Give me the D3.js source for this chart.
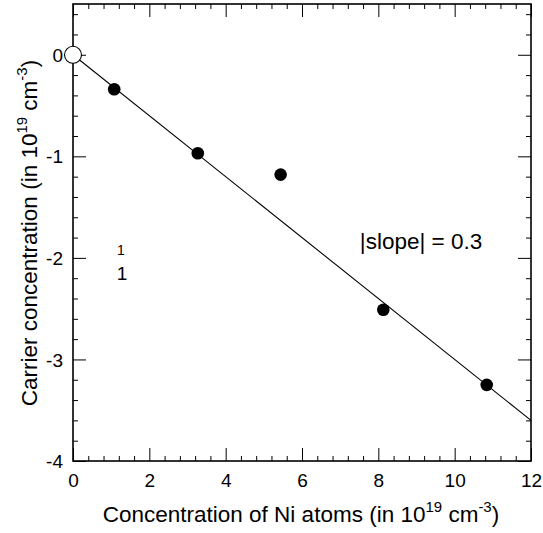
<!DOCTYPE html>
<html><head><meta charset="utf-8">
<script src="https://cdn.jsdelivr.net/npm/d3@7"></script>
<style>
html,body{margin:0;padding:0;background:#fff;}
text{font-family:"Liberation Sans",Arial,sans-serif;fill:#000;}
</style></head>
<body>
<svg id="chart" width="543" height="533"></svg>
<script>
// data
const niConc = [1.08, 3.27, 5.44, 8.13, 10.84];
const carrierConc = [-0.34, -0.97, -1.18, -2.51, -3.25];
const originX = [0];
const originY = [0];
const slope = -0.3;
const fitX = [0, 12];
const xTickValues = [0, 2, 4, 6, 8, 10, 12];
const yTickValues = [-4, -3, -2, -1, 0];
const slopeLabel = "|slope| = 0.3";

const svg = d3.select("#chart");
const L = 73, R = 531, T = 4, B = 461;
const x = d3.scaleLinear().domain([0, 12]).range([L, R]);
const y = d3.scaleLinear().domain([-4, 0.5]).range([B, T]);

const xMinor = d3.range(0, 12.0001, 0.4).map(v => +v.toFixed(2)).filter(v => !xTickValues.includes(v));
const yMinor = d3.range(-4, 0.5001, 0.2).map(v => +v.toFixed(2)).filter(v => !yTickValues.includes(v));

function drawAxis(gen, transform, major, minor, labels) {
  const gMaj = svg.append("g").attr("transform", transform)
    .call(gen.tickValues(major).tickSizeInner(-13).tickSizeOuter(0).tickFormat(labels ? (d => String(d)) : ""));
  gMaj.select(".domain").remove();
  gMaj.selectAll(".tick line").attr("stroke", "#000").attr("stroke-width", 1);
  gMaj.selectAll(".tick text").attr("font-size", 19).attr("fill", "#000")
    .attr("font-family", "Liberation Sans, Arial, sans-serif");
  const gMin = svg.append("g").attr("transform", transform)
    .call(gen.tickValues(minor).tickSizeInner(-5).tickSizeOuter(0).tickFormat(""));
  gMin.select(".domain").remove();
  gMin.selectAll(".tick line").attr("stroke", "#000").attr("stroke-width", 1);
  return gMaj;
}
const gx = drawAxis(d3.axisBottom(x), `translate(0,${B})`, xTickValues, xMinor, true);
gx.selectAll(".tick text").attr("dy", null).attr("y", 26);
drawAxis(d3.axisTop(x), `translate(0,${T})`, xTickValues, xMinor, false);
const gy = drawAxis(d3.axisLeft(y), `translate(${L},0)`, yTickValues, yMinor, true);
gy.selectAll(".tick text").attr("x", -10).attr("dy", "0.35em");
drawAxis(d3.axisRight(y), `translate(${R},0)`, yTickValues, yMinor, false);

// frame
svg.append("rect").attr("x", L).attr("y", T).attr("width", R - L).attr("height", B - T)
  .attr("fill", "none").attr("stroke", "#000").attr("stroke-width", 1.6);

// fit line
svg.append("line")
  .attr("x1", x(fitX[0])).attr("y1", y(slope * fitX[0]))
  .attr("x2", x(fitX[1])).attr("y2", y(slope * fitX[1]))
  .attr("stroke", "#000").attr("stroke-width", 1.1);

// points
svg.append("g").selectAll("circle").data(niConc).join("circle")
  .attr("cx", (d) => x(d)).attr("cy", (d, i) => y(carrierConc[i])).attr("r", 6.3).attr("fill", "#000");
svg.append("g").selectAll("circle").data(originX).join("circle")
  .attr("cx", d => x(d)).attr("cy", (d, i) => y(originY[i])).attr("r", 8.5)
  .attr("fill", "#fff").attr("stroke", "#000").attr("stroke-width", 1.1);

// annotation
svg.append("text").attr("x", 421).attr("y", 249).attr("text-anchor", "middle")
  .attr("font-size", 22.5).text(slopeLabel);
svg.append("text").attr("x", 121).attr("y", 255).attr("text-anchor", "middle").attr("font-size", 14).text("1");
svg.append("text").attr("x", 122).attr("y", 280).attr("text-anchor", "middle").attr("font-size", 19).text("1");

// axis labels
function label(sel, base) {
  sel.append("tspan").text(base);
  sel.append("tspan").attr("font-size", 15).attr("dy", -10).text("19");
  sel.append("tspan").attr("dy", 10).text(" cm");
  sel.append("tspan").attr("font-size", 15).attr("dy", -10).text("-3");
  sel.append("tspan").attr("dy", 10).text(")");
}
const xl = svg.append("text").attr("x", 301).attr("y", 522).attr("text-anchor", "middle").attr("font-size", 22.5);
label(xl, "Concentration of Ni atoms (in 10");
const yl = svg.append("text").attr("transform", "translate(37,233) rotate(-90)").attr("text-anchor", "middle").attr("font-size", 22.5);
label(yl, "Carrier concentration (in 10");
</script>
</body></html>
